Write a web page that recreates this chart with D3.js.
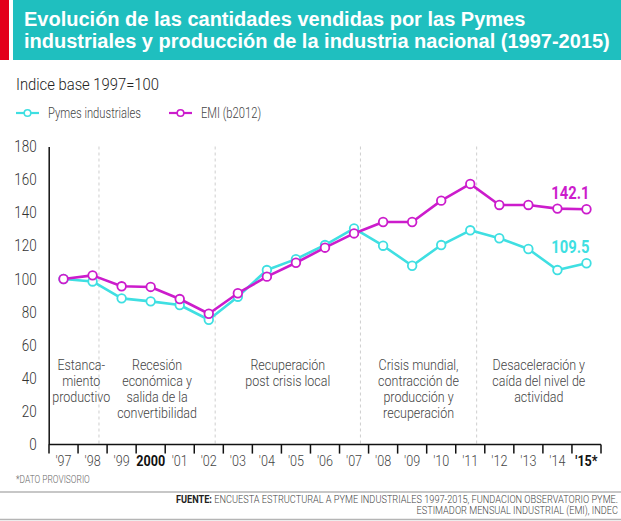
<!DOCTYPE html>
<html>
<head>
<meta charset="utf-8">
<script src="https://cdn.jsdelivr.net/npm/d3@7/dist/d3.min.js"></script>
<style>
  html, body { margin: 0; padding: 0; background: #fff; }
  svg { display: block; }
  .narrow { font-family: Roboto, "Liberation Sans", sans-serif; font-weight: 300; }
  .narrowb { font-family: Roboto, "Liberation Sans", sans-serif; font-weight: 700; }
</style>
</head>
<body>
<script>
// ---- DATA ----
const categories = ["'97","'98","'99","2000","'01","'02","'03","'04","'05","'06","'07","'08","'09","'10","'11","'12","'13","'14","'15*"];
const boldCategories = ["2000","'15*"];
const pymes = [100, 98.5, 88.3, 86.5, 84.3, 75.4, 89.3, 105.4, 112, 120.5, 130.5, 120.1, 108, 120.5, 129.4, 124.6, 118.1, 105.4, 109.5];
const emi   = [100, 102.2, 95.6, 95.2, 87.9, 79, 91.4, 101.4, 109.8, 118.9, 127.5, 134.4, 134.4, 147.3, 157.4, 144.7, 144.7, 142.5, 142.1];
const seriesNames = ["Pymes industriales", "EMI (b2012)"];
const yTicks = [0, 20, 40, 60, 80, 100, 120, 140, 160, 180];
const periodBreaks = ["'98", "'02", "'07", "'11"];
const periodLabels = [
  ["Estanca-", "miento", "productivo"],
  ["Recesión", "económica y", "salida de la", "convertibilidad"],
  ["Recuperación", "post crisis local"],
  ["Crisis mundial,", "contracción de", "producción y", "recuperación"],
  ["Desaceleración y", "caída del nivel de", "actividad"]
];
const titleLines = ["Evolución de las cantidades vendidas por las Pymes", "industriales y producción de la industria nacional (1997-2015)"];
const subtitle = "Indice base 1997=100";
const note = "*DATO PROVISORIO";
const sourceLines = [["FUENTE: ", "ENCUESTA ESTRUCTURAL A PYME INDUSTRIALES 1997-2015, FUNDACION OBSERVATORIO PYME."], ["", "ESTIMADOR MENSUAL INDUSTRIAL (EMI), INDEC"]];

// ---- STYLE ----
const W = 621, H = 521;
const colors = ["#3fdfe2", "#cc1ccc"];
const teal = "#1fbfbf", red = "#e3001b";
const SQUEEZE = 0.84;

// narrow the glyphs of a text node horizontally (keeps it as real text)
function condense(sel, f) {
  sel.each(function() {
    const len = this.getComputedTextLength();
    if (len > 0) d3.select(this).attr("textLength", len * (f || SQUEEZE)).attr("lengthAdjust", "spacingAndGlyphs");
  });
}

const svg = d3.select("body").append("svg").attr("width", W).attr("height", H);

// Header
svg.append("rect").attr("x", 0).attr("y", 0).attr("width", 9).attr("height", 60).attr("fill", red);
svg.append("rect").attr("x", 13).attr("y", 0).attr("width", W - 13).attr("height", 60).attr("fill", teal);
svg.selectAll("text.title").data(titleLines).join("text")
  .attr("class", "title")
  .attr("x", 24).attr("y", (d, i) => 26 + i * 22)
  .attr("font-family", "'Liberation Sans', Arial, sans-serif")
  .attr("font-weight", "bold").attr("font-size", 20).attr("fill", "#fff")
  .text(d => d);

svg.append("text").attr("x", 16).attr("y", 90)
  .attr("font-family", "Roboto, 'Liberation Sans', sans-serif").attr("font-weight", 300)
  .attr("font-size", 17).attr("fill", "#222").text(subtitle)
  .call(condense, 0.87);

// Legend
const legend = svg.append("g").selectAll("g").data(seriesNames).join("g")
  .attr("transform", (d, i) => `translate(${16 + i * 153},113)`);
legend.append("line").attr("x1", 0).attr("x2", 23).attr("y1", 0).attr("y2", 0)
  .attr("stroke", (d, i) => colors[i]).attr("stroke-width", 2.2);
legend.append("circle").attr("cx", 11.5).attr("cy", 0).attr("r", 3.3)
  .attr("fill", "#fff").attr("stroke", (d, i) => colors[i]).attr("stroke-width", 1.6);
legend.append("text").attr("class", "narrow").attr("x", 32).attr("y", 5)
  .attr("font-size", 14).attr("fill", "#444").text(d => d).call(condense, 0.8);

// Scales
const x = d3.scaleBand().domain(categories).range([49, 601]).padding(0);
const bw = x.bandwidth();
const cx = c => x(c) + bw / 2;
const y = d3.scaleLinear().domain([0, 180]).range([444.6, 146.5]);

// Period dashed lines
const breakX = periodBreaks.map(c => x(c) + bw * 0.72);
svg.append("g").selectAll("line").data(breakX).join("line")
  .attr("x1", d => d).attr("x2", d => d)
  .attr("y1", y(180)).attr("y2", y(0))
  .attr("stroke", "#cfcfcf").attr("stroke-width", 1).attr("stroke-dasharray", "3,3");

// Period labels
const bounds = [cx(categories[0])].concat(breakX, [x.range()[1]]);
periodLabels.forEach((lines, i) => {
  const mx = (bounds[i] + bounds[i + 1]) / 2;
  svg.append("g").selectAll("text").data(lines).join("text")
    .attr("class", "narrow")
    .attr("text-anchor", "middle").attr("font-size", 14.5).attr("fill", "#444")
    .attr("x", mx).attr("y", (d, j) => 370 + j * 16)
    .text(d => d).call(condense, 0.86);
});

// Y axis
const yAxis = svg.append("g").attr("transform", "translate(48.7,0)")
  .call(d3.axisLeft(y).tickValues(yTicks).tickSize(0).tickPadding(12));
yAxis.select(".domain").attr("stroke", "#111").attr("stroke-width", 1.5);
yAxis.selectAll("text").attr("class", "narrow").attr("font-size", 16).attr("fill", "#333").call(condense);

// X axis
const xAxisG = svg.append("g").attr("transform", `translate(0,${y(0)})`);
xAxisG.append("line").attr("x1", x.range()[0]).attr("x2", x.range()[1])
  .attr("stroke", "#111").attr("stroke-width", 1.5);
const tickPos = categories.map(c => x(c)).concat([x.range()[1]]);
xAxisG.selectAll("line.tick").data(tickPos).join("line").attr("class", "tick")
  .attr("x1", d => d).attr("x2", d => d).attr("y1", 0).attr("y2", 9)
  .attr("stroke", "#111").attr("stroke-width", 1.5);
xAxisG.selectAll("text").data(categories).join("text")
  .attr("class", d => boldCategories.includes(d) ? "narrowb" : "narrow")
  .attr("x", d => cx(d)).attr("y", 21)
  .attr("text-anchor", "middle").attr("font-size", 15)
  .attr("fill", d => boldCategories.includes(d) ? "#111" : "#444")
  .text(d => d).call(condense);

// Lines & markers
const line = d3.line().x((d, i) => cx(categories[i])).y(d => y(d));
[pymes, emi].forEach((vals, s) => {
  svg.append("path").datum(vals).attr("d", line)
    .attr("fill", "none").attr("stroke", colors[s]).attr("stroke-width", 2.6)
    .attr("stroke-linejoin", "round");
  svg.append("g").selectAll("circle").data(vals).join("circle")
    .attr("cx", (d, i) => cx(categories[i])).attr("cy", d => y(d)).attr("r", 4.3)
    .attr("fill", "#fff").attr("stroke", colors[s]).attr("stroke-width", 1.8);
  const last = vals[vals.length - 1];
  svg.append("text").attr("class", "narrowb")
    .attr("x", cx(categories[categories.length - 1]) + 3).attr("y", y(last) - 10)
    .attr("text-anchor", "end").attr("font-size", 18.5)
    .attr("fill", colors[s]).text(last.toFixed(1)).call(condense, 0.8);
});

// Footer
svg.append("text").attr("class", "narrow").attr("x", 16).attr("y", 483)
  .attr("font-size", 10).attr("fill", "#666").text(note).call(condense);
svg.append("line").attr("x1", 0).attr("x2", W).attr("y1", 492).attr("y2", 492)
  .attr("stroke", "#b5b5b5").attr("stroke-width", 1.5);
svg.append("line").attr("x1", 0).attr("x2", W).attr("y1", 519.5).attr("y2", 519.5)
  .attr("stroke", "#b5b5b5").attr("stroke-width", 1.5);
const src = svg.append("g").selectAll("g").data(sourceLines).join("g")
  .attr("transform", (d, i) => `translate(618,${503 + i * 11}) scale(0.92,1)`)
  .append("text")
  .attr("class", "narrow").attr("x", 0).attr("y", 0)
  .attr("text-anchor", "end").attr("font-size", 10);
src.append("tspan").attr("class", "narrowb").attr("fill", "#222").text(d => d[0]);
src.append("tspan").attr("fill", "#444").text(d => d[1]);
</script>
</body>
</html>
